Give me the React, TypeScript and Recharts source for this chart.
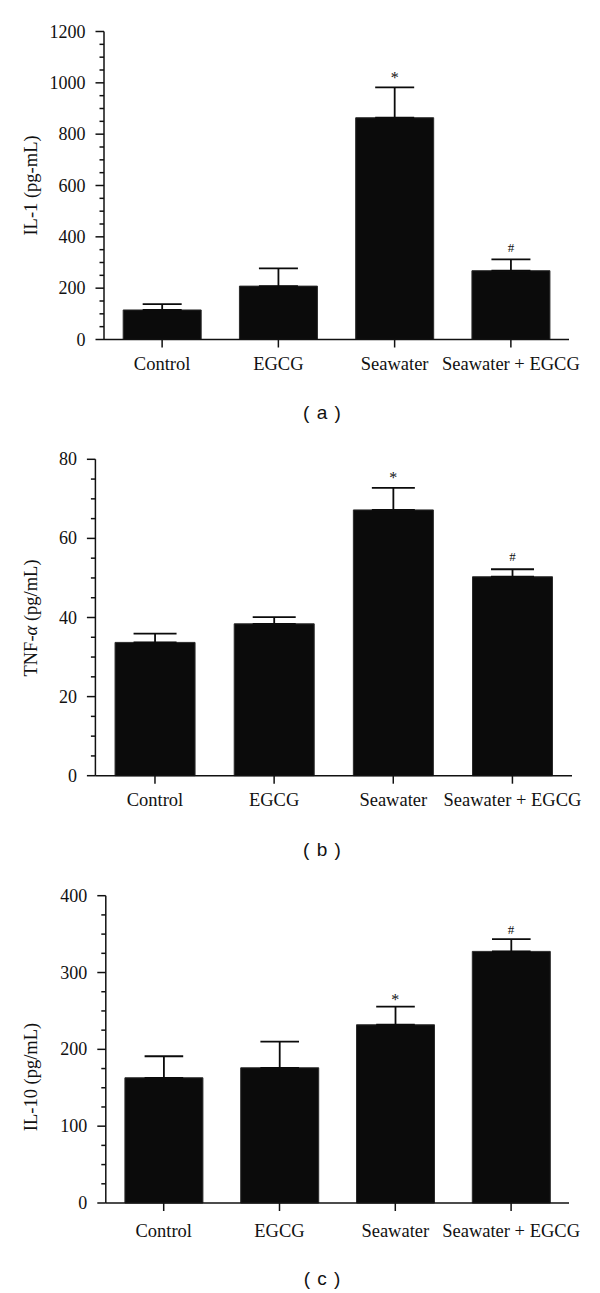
import React from 'react';
import { ComposedChart, Bar, Line, XAxis, YAxis, ErrorBar } from 'recharts';

const categories = ['Control', 'EGCG', 'Seawater', 'Seawater + EGCG'];

const il1Mean = [115, 208, 864, 268];
const il1Err = [23, 69, 118, 44];
const il1Marks = ['', '', '*', '#'];
const il1Ticks = [0, 200, 400, 600, 800, 1000, 1200];

const tnfMean = [33.7, 38.4, 67.2, 50.3];
const tnfErr = [2.2, 1.7, 5.6, 1.9];
const tnfMarks = ['', '', '*', '#'];
const tnfTicks = [0, 20, 40, 60, 80];

const il10Mean = [163, 176, 232, 327.5];
const il10Err = [28, 34, 23.5, 16];
const il10Marks = ['', '', '*', '#'];
const il10Ticks = [0, 100, 200, 300, 400];

const SERIF = '"Liberation Serif", "Times New Roman", serif';
const SANS = '"Liberation Sans", Arial, sans-serif';
const AX = '#111';

type Geo = {
  height: number;
  plotTop: number;
  plotBottom: number;
  axisX: number;
  plotRight: number;
  tickMargin: number;
  yLabelX: number;
  yLabelY: number;
  markGap: number;
};

function buildRows(mean: number[], err: number[], marks: string[]) {
  return categories.map((c, i) => ({
    name: c,
    mean: mean[i],
    errRange: [0, err[i]],
    top: mean[i] + err[i],
    mark: marks[i],
  }));
}

function Panel(props: {
  rows: any[];
  majors: number[];
  minorStep: number;
  yLabel: React.ReactNode;
  geo: Geo;
  errHalf: number;
}) {
  const { rows, majors, minorStep, yLabel, geo, errHalf } = props;
  const max = majors[majors.length - 1];
  const allTicks: number[] = [];
  for (let v = 0; v <= max + 1e-9; v += minorStep) allTicks.push(+v.toFixed(4));

  const YTick = (p: any) => {
    const { y, payload } = p;
    const major = majors.some((m) => Math.abs(m - payload.value) < 1e-6);
    const ax = geo.axisX;
    return (
      <g>
        <line x1={ax - (major ? 8.5 : 4.5)} x2={ax} y1={y} y2={y} stroke={AX} strokeWidth={1.5} />
        {major && (
          <text x={ax - 18.5} y={y + 6} textAnchor="end" fontFamily={SERIF} fontSize={18} fill="#111">
            {payload.value}
          </text>
        )}
      </g>
    );
  };

  const markDot = (p: any) => {
    const { cx, cy, payload, index } = p;
    const m = payload && payload.mark;
    if (!m) return <g key={'m' + index} />;
    const isStar = m === '*';
    const fs = isStar ? 16 : 13;
    const base = cy - geo.markGap + (isStar ? 0.47 : 0.34) * fs;
    return (
      <text key={'m' + index} x={cx} y={base} textAnchor="middle" fontFamily={SERIF} fontSize={fs} fill="#111">
        {m}
      </text>
    );
  };

  const xAxisHeight = 60;
  return (
    <ComposedChart
      width={600}
      height={geo.height}
      data={rows}
      barCategoryGap="16.5%"
      margin={{
        top: geo.plotTop,
        right: 600 - geo.plotRight,
        left: 0,
        bottom: geo.height - geo.plotBottom - xAxisHeight,
      }}
    >
      <XAxis
        dataKey="name"
        interval={0}
        height={xAxisHeight}
        tickSize={8}
        tickMargin={geo.tickMargin}
        tickLine={{ stroke: AX, strokeWidth: 1.5 }}
        axisLine={{ stroke: AX, strokeWidth: 1.5 }}
        tick={{ fill: '#111', fontSize: 18.5, fontFamily: SERIF }}
      />
      <YAxis
        width={geo.axisX}
        domain={[0, max]}
        ticks={allTicks}
        interval={0}
        tickSize={0}
        tickMargin={0}
        tickLine={false}
        axisLine={{ stroke: AX, strokeWidth: 1.5 }}
        tick={YTick}
        label={{
          content: () => (
            <text
              x={geo.yLabelX}
              y={geo.yLabelY}
              transform={`rotate(-90, ${geo.yLabelX}, ${geo.yLabelY})`}
              textAnchor="middle"
              fontFamily={SERIF}
              fontSize={18.5}
              fill="#111"
            >
              {yLabel}
            </text>
          ),
        }}
      />
      <Bar dataKey="mean" fill="#0b0b0b" stroke="#2a2a2a" strokeWidth={1} isAnimationActive={false}>
        <ErrorBar dataKey="errRange" width={errHalf} stroke="#0b0b0b" strokeWidth={1.8} direction="y" />
      </Bar>
      <Line
        dataKey="top"
        stroke="none"
        strokeOpacity={0}
        dot={markDot}
        activeDot={false}
        isAnimationActive={false}
        legendType="none"
      />
    </ComposedChart>
  );
}

const geoA: Geo = { height: 430, plotTop: 31.5, plotBottom: 339.5, axisX: 104, plotRight: 569, tickMargin: 9.6, yLabelX: 37.3, yLabelY: 185.5, markGap: 12.3 };
const geoB: Geo = { height: 430, plotTop: 29.3, plotBottom: 345.7, axisX: 95.4, plotRight: 572, tickMargin: 9.6, yLabelX: 37.3, yLabelY: 188, markGap: 12.2 };
const geoC: Geo = { height: 433, plotTop: 35.7, plotBottom: 343, axisX: 105.8, plotRight: 569, tickMargin: 12.5, yLabelX: 37.3, yLabelY: 217, markGap: 9.7 };

export default function App() {
  return (
    <div style={{ position: 'absolute', left: 0, top: 0, width: 600, height: 1293, background: '#fff', overflow: 'hidden' }}>
      <div style={{ position: 'absolute', left: 0, top: 0 }}>
        <Panel rows={buildRows(il1Mean, il1Err, il1Marks)} majors={il1Ticks} minorStep={50} yLabel="IL-1 (pg-mL)" geo={geoA} errHalf={19.5} />
      </div>
      <div style={{ position: 'absolute', left: 0, top: 430 }}>
        <Panel
          rows={buildRows(tnfMean, tnfErr, tnfMarks)}
          majors={tnfTicks}
          minorStep={5}
          yLabel={
            <>
              <tspan>TNF-</tspan>
              <tspan fontStyle="italic">α</tspan>
              <tspan> (pg/mL)</tspan>
            </>
          }
          geo={geoB}
          errHalf={21.5}
        />
      </div>
      <div style={{ position: 'absolute', left: 0, top: 860 }}>
        <Panel rows={buildRows(il10Mean, il10Err, il10Marks)} majors={il10Ticks} minorStep={25} yLabel="IL-10 (pg/mL)" geo={geoC} errHalf={19.3} />
      </div>
      <svg width={600} height={1293} style={{ position: 'absolute', left: 0, top: 0, pointerEvents: 'none' }}>
        <text x={322.5} y={418.9} textAnchor="middle" fontFamily={SANS} fontSize={19} letterSpacing={1} fill="#111" style={{ whiteSpace: 'pre' }}>( a )</text>
        <text x={322.5} y={855.6} textAnchor="middle" fontFamily={SANS} fontSize={19} letterSpacing={1} fill="#111" style={{ whiteSpace: 'pre' }}>( b )</text>
        <text x={322.5} y={1284.9} textAnchor="middle" fontFamily={SANS} fontSize={19} letterSpacing={1} fill="#111" style={{ whiteSpace: 'pre' }}>( c )</text>
      </svg>
    </div>
  );
}
